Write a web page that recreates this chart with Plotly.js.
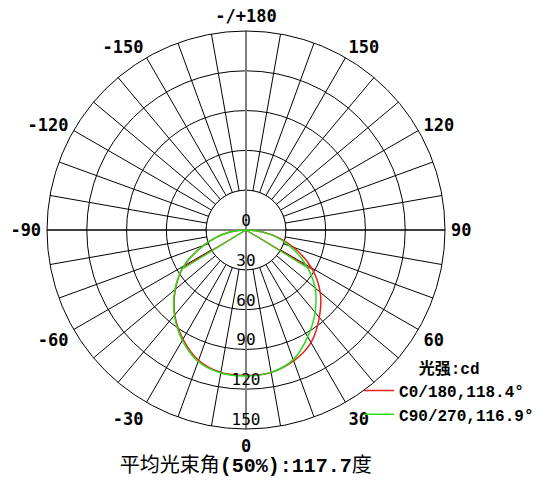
<!DOCTYPE html>
<html>
<head>
<meta charset="utf-8">
<script src="https://cdn.plot.ly/plotly-3.0.1.min.js"></script>
<style>html,body{margin:0;padding:0;background:#fff;}</style>
</head>
<body>
<div id="chart" style="width:540px;height:480px;"></div>
<script>
// ---- data ----
const gammaAngles = [-90,-80,-70,-60,-50,-40,-30,-20,-10,0,10,20,30,40,50,60,70,80,90];
const c0_180 =  [0,17,34,54,69.5,83.5,95,104.5,109,109.5,109,105,98,86,73,57,38,19,0];
const c90_270 = [0,17,34,54,70,84,96,105.5,109.5,110,109,104,93,81,68,52,35,18,0];
const beamAngleC0 = 118.4;
const beamAngleC90 = 116.9;
const halfIntensityC0 = 57;
const halfIntensityC90 = 55;
const seriesNames = ['C0/180,118.4°', 'C90/270,116.9°'];
const radialTickVals = [0,30,60,90,120,150];
const radialTickText = ['0','30','60','90','120','150'];
const angleLabelVals = [0,30,60,90,120,150,180,210,240,270,300,330];
const angleLabelText = ['0','30','60','90','120','150','-/+180','-150','-120','-90','-60','-30'];
const legendTitle = '光强<span style="font-family:\'Liberation Mono\'">:cd</span>';
const chartTitle = '平均光束角<span style="font-family:\'Liberation Mono\';font-weight:bold">(50%):117.7</span>度';

// ---- build axis ticks (every 10 deg spoke, labels every 30) ----
const gridVals = [], gridText = [];
for (let a = 0; a < 360; a += 10) {
  gridVals.push(a);
  const idx = angleLabelVals.indexOf(a);
  gridText.push(idx >= 0 ? angleLabelText[idx] : '');
}
// inner disk covering spokes inside first ring
const diskTheta = [], diskR = [];
for (let a = 0; a <= 360; a += 3) { diskTheta.push(a); diskR.push(radialTickVals[1]); }

const RED = 'rgb(235,30,30)';
const GREEN = 'rgb(45,220,30)';

const traces = [
  {type:'scatterpolar', r:diskR, theta:diskTheta, mode:'lines', fill:'toself',
   fillcolor:'#ffffff', line:{color:'#000', width:1}, showlegend:false, hoverinfo:'skip'},
  {type:'scatterpolar', r:[150,0,150], theta:[0,0,180], mode:'lines',
   line:{color:'#808080', width:2}, showlegend:false, hoverinfo:'skip'},
  {type:'scatterpolar', r:[150,0,150], theta:[90,90,-90], mode:'lines',
   line:{color:'#000', width:1}, showlegend:false, hoverinfo:'skip'},
  {type:'scatterpolar', r:c0_180, theta:gammaAngles, mode:'lines', name:seriesNames[0],
   line:{color:RED, width:1.5, shape:'spline'}},
  {type:'scatterpolar', r:[halfIntensityC0,0,halfIntensityC0], theta:[-beamAngleC0/2,0,beamAngleC0/2], mode:'lines',
   line:{color:RED, width:1.2}, showlegend:false},
  {type:'scatterpolar', r:c90_270, theta:gammaAngles, mode:'lines', name:seriesNames[1],
   line:{color:GREEN, width:1.5, shape:'spline'}},
  {type:'scatterpolar', r:[halfIntensityC90,0,halfIntensityC90], theta:[-beamAngleC90/2,0,beamAngleC90/2], mode:'lines',
   line:{color:GREEN, width:1.2}, showlegend:false},
  {type:'scatterpolar', r:radialTickVals, theta:radialTickVals.map(()=>0), mode:'text',
   text:radialTickText, textposition:'top center', marker:{size:0},
   textfont:{family:'DejaVu Sans Mono', size:16, color:'#000'}, showlegend:false, hoverinfo:'skip'}
];

const layout = {
  width:540, height:480,
  margin:{l:47, r:95, t:31, b:51, autoexpand:false},
  paper_bgcolor:'#fff',
  showlegend:true,
  title:{text:chartTitle, x:0.455, xanchor:'center', y:0.032, yanchor:'middle',
         font:{family:'Noto Sans CJK SC', size:20, color:'#000'}},
  legend:{xref:'container', yref:'container', x:0.665, xanchor:'left', y:0.265, yanchor:'top',
          bgcolor:'rgba(0,0,0,0)',
          title:{text:legendTitle, side:'top center', font:{family:'Noto Sans CJK SC', size:16, color:'#000', weight:'bold'}},
          font:{family:'Liberation Mono', size:16, color:'#000', weight:'bold'},
          tracegroupgap:0, itemwidth:30},
  polar:{
    bgcolor:'#fff',
    domain:{x:[0,1], y:[0,1]},
    angularaxis:{rotation:-90, direction:'counterclockwise', tickmode:'array',
      tickvals:gridVals, ticktext:gridText, showgrid:true, gridcolor:'#000', gridwidth:1,
      showline:true, linecolor:'#000', linewidth:1, ticks:'outside', ticklen:2, tickcolor:'rgba(0,0,0,0)',
      tickfont:{family:'DejaVu Sans Mono', size:17, color:'#000', weight:'bold'}},
    radialaxis:{range:[0,150], tickmode:'array', tickvals:[30,60,90,120,150], showticklabels:false,
      showgrid:true, gridcolor:'#000', gridwidth:1, showline:false, ticks:''}
  }
};
Plotly.newPlot('chart', traces, layout, {displayModeBar:false, staticPlot:true});
</script>
</body>
</html>
